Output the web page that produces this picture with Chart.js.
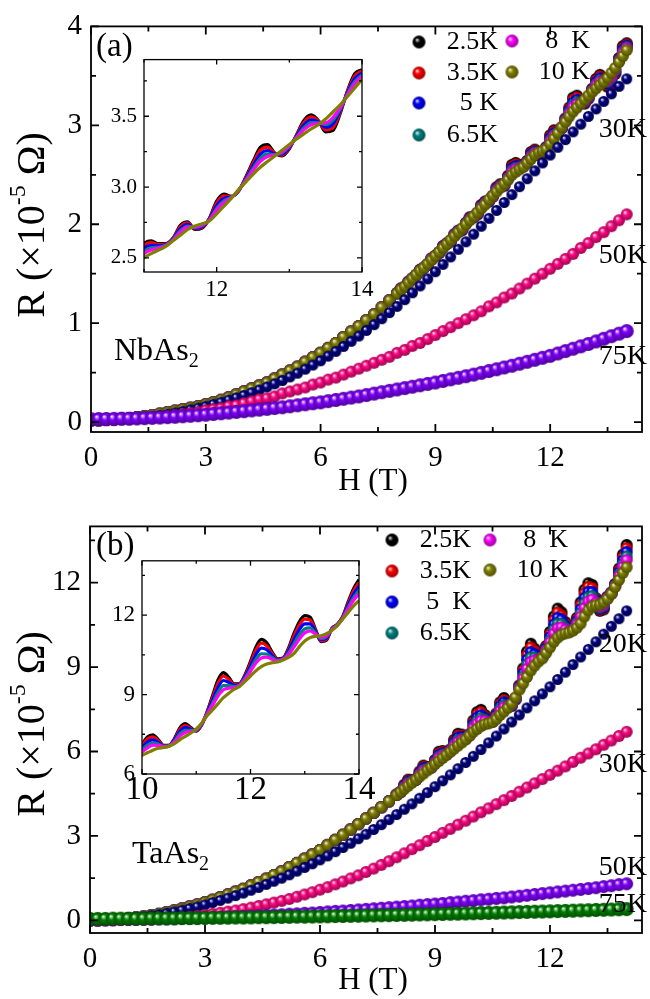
<!DOCTYPE html>
<html>
<head>
<meta charset="utf-8">
<title>NbAs2 / TaAs2 magnetoresistance</title>
<script src="https://cdn.jsdelivr.net/npm/chart.js@4.4.1/dist/chart.umd.min.js"></script>
<style>
  html, body { margin: 0; padding: 0; background: #fff; }
  #page { position: relative; width: 650px; height: 999px; overflow: hidden; }
  #page canvas { position: absolute; }
</style>
</head>
<body>
<div id="page">
  <canvas id="mainA" width="650" height="500" style="left:0;top:0"></canvas>
  <canvas id="mainB" width="650" height="499" style="left:0;top:500px"></canvas>
  <canvas id="insetA" width="290" height="260" style="left:100px;top:40px"></canvas>
  <canvas id="insetB" width="290" height="285" style="left:100px;top:540px"></canvas>
</div>
<script>
// field grids (T)
const hLow = [0,0.2,0.4,0.6,0.8,1,1.2,1.4,1.6,1.8,2,2.2,2.4,2.6,2.8,3,3.2,3.4,3.6,3.8,
  4,4.2,4.4,4.6,4.8,5,5.2,5.4,5.6,5.8,6,6.2,6.4,6.6,6.8,7,7.2,7.4,7.6,7.8];
const hHigh = [8,8.1,8.2,8.3,8.4,8.5,8.6,8.7,8.8,8.9,9,9.1,9.2,9.3,9.4,9.5,9.6,9.7,9.8,9.9,
  10,10.1,10.2,10.3,10.4,10.5,10.6,10.7,10.8,10.9,11,11.1,11.2,11.3,11.4,11.5,11.6,11.7,11.8,11.9,
  12,12.1,12.2,12.3,12.4,12.5,12.6,12.7,12.8,12.9,13,13.1,13.2,13.3,13.4,13.5,13.6,13.7,13.8,13.9,14];
const hAll = [0,0.2,0.4,0.6,0.8,1,1.2,1.4,1.6,1.8,2,2.2,2.4,2.6,2.8,3,3.2,3.4,3.6,3.8,
  4,4.2,4.4,4.6,4.8,5,5.2,5.4,5.6,5.8,6,6.2,6.4,6.6,6.8,7,7.2,7.4,7.6,7.8,
  8,8.2,8.4,8.6,8.8,9,9.2,9.4,9.6,9.8,10,10.2,10.4,10.6,10.8,11,11.2,11.4,11.6,11.8,
  12,12.2,12.4,12.6,12.8,13,13.2,13.4,13.6,13.8,14];

// ---- (a) NbAs2, R in 1e-5 Ohm ----
// low-temperature curves coincide below 8 T
const lowA = [0.02,0.02,0.025,0.03,0.035,0.04,0.05,0.06,0.07,0.085,
  0.10,0.115,0.13,0.145,0.16,0.18,0.20,0.225,0.25,0.28,
  0.31,0.34,0.37,0.40,0.44,0.48,0.52,0.56,0.61,0.655,
  0.70,0.75,0.80,0.86,0.915,0.97,1.03,1.09,1.16,1.23];
const a25 = [1.305,1.35,1.365,1.42,1.45,1.485,1.54,1.56,1.59,1.655,
  1.68,1.71,1.78,1.805,1.825,1.90,1.935,1.94,2.015,2.07,
  2.07,2.10,2.195,2.23,2.23,2.28,2.375,2.405,2.39,2.49,
  2.60,2.62,2.60,2.60,2.64,2.73,2.755,2.70,2.71,2.78,
  2.90,2.95,2.935,2.97,3.07,3.18,3.28,3.30,3.24,3.22,
  3.27,3.37,3.47,3.51,3.47,3.39,3.40,3.52,3.68,3.80,3.83];
const a35 = [1.304,1.349,1.366,1.419,1.45,1.486,1.539,1.56,1.592,1.653,
  1.68,1.712,1.777,1.804,1.827,1.897,1.933,1.943,2.013,2.066,
  2.072,2.103,2.19,2.226,2.233,2.282,2.368,2.40,2.393,2.484,
  2.585,2.607,2.593,2.597,2.637,2.72,2.747,2.704,2.715,2.777,
  2.887,2.937,2.933,2.972,3.065,3.167,3.259,3.282,3.237,3.226,
  3.275,3.366,3.456,3.495,3.466,3.404,3.42,3.529,3.674,3.785,3.82];
const a5 = [1.303,1.347,1.367,1.417,1.45,1.487,1.537,1.56,1.594,1.65,
  1.68,1.714,1.773,1.803,1.83,1.893,1.93,1.947,2.01,2.06,
  2.074,2.107,2.183,2.22,2.237,2.284,2.359,2.393,2.397,2.476,
  2.565,2.589,2.584,2.593,2.633,2.706,2.736,2.709,2.721,2.773,
  2.869,2.92,2.93,2.974,3.058,3.149,3.231,3.258,3.233,3.234,
  3.281,3.36,3.437,3.475,3.46,3.422,3.446,3.541,3.666,3.765,3.806];
const a65 = [1.302,1.345,1.368,1.415,1.45,1.488,1.535,1.56,1.596,1.647,
  1.68,1.716,1.769,1.802,1.833,1.889,1.927,1.951,2.007,2.054,
  2.076,2.111,2.176,2.214,2.241,2.286,2.35,2.386,2.401,2.468,
  2.545,2.571,2.575,2.589,2.629,2.692,2.725,2.714,2.727,2.769,
  2.851,2.903,2.927,2.976,3.051,3.131,3.203,3.234,3.229,3.242,
  3.287,3.354,3.418,3.455,3.454,3.44,3.472,3.553,3.658,3.745,3.792];
const a8 = [1.302,1.343,1.369,1.413,1.45,1.489,1.533,1.56,1.597,1.645,
  1.68,1.717,1.766,1.802,1.836,1.886,1.925,1.954,2.005,2.049,
  2.077,2.114,2.171,2.209,2.244,2.287,2.344,2.381,2.404,2.462,
  2.53,2.557,2.569,2.586,2.626,2.681,2.717,2.718,2.731,2.766,
  2.837,2.891,2.925,2.977,3.046,3.117,3.182,3.216,3.226,3.248,
  3.291,3.349,3.404,3.44,3.449,3.453,3.491,3.562,3.652,3.73,3.781];
const a10 = [1.30,1.34,1.37,1.41,1.45,1.49,1.53,1.56,1.60,1.64,
  1.68,1.72,1.76,1.80,1.84,1.88,1.92,1.96,2.00,2.04,
  2.08,2.12,2.16,2.20,2.25,2.29,2.33,2.37,2.41,2.45,
  2.50,2.53,2.555,2.58,2.62,2.66,2.70,2.725,2.74,2.76,
  2.81,2.865,2.92,2.98,3.035,3.09,3.14,3.18,3.22,3.26,
  3.30,3.34,3.375,3.41,3.44,3.48,3.53,3.58,3.64,3.70,3.76];
const a30 = [0.01,0.012,0.015,0.019,0.024,0.03,0.037,0.045,0.055,0.067,
  0.08,0.094,0.109,0.125,0.142,0.16,0.18,0.201,0.223,0.246,
  0.27,0.297,0.325,0.355,0.387,0.42,0.457,0.495,0.535,0.577,
  0.62,0.667,0.715,0.765,0.817,0.87,0.927,0.985,1.045,1.107,
  1.17,1.238,1.307,1.377,1.448,1.52,1.595,1.67,1.747,1.823,
  1.90,1.98,2.06,2.14,2.22,2.30,2.38,2.46,2.54,2.62,
  2.70,2.778,2.856,2.934,3.012,3.09,3.166,3.242,3.318,3.394,3.47];
const a50 = [0.02,0.02,0.02,0.02,0.03,0.03,0.04,0.04,0.05,0.05,
  0.06,0.07,0.08,0.09,0.10,0.12,0.13,0.14,0.16,0.17,
  0.19,0.21,0.23,0.24,0.26,0.29,0.31,0.33,0.35,0.38,
  0.40,0.43,0.45,0.48,0.51,0.54,0.57,0.60,0.63,0.66,
  0.70,0.73,0.77,0.80,0.84,0.88,0.92,0.96,1.00,1.04,
  1.08,1.12,1.17,1.21,1.26,1.30,1.35,1.40,1.45,1.50,
  1.55,1.60,1.65,1.70,1.76,1.81,1.87,1.92,1.98,2.04,2.10];
const a75 = [0.03,0.031,0.032,0.033,0.034,0.035,0.037,0.04,0.043,0.046,
  0.05,0.054,0.059,0.064,0.069,0.075,0.082,0.089,0.096,0.103,
  0.11,0.118,0.126,0.134,0.142,0.15,0.16,0.17,0.18,0.19,
  0.20,0.212,0.224,0.236,0.248,0.26,0.274,0.288,0.302,0.316,
  0.33,0.344,0.358,0.372,0.386,0.40,0.416,0.432,0.448,0.464,
  0.48,0.498,0.516,0.534,0.552,0.57,0.59,0.61,0.63,0.65,
  0.67,0.694,0.718,0.742,0.766,0.79,0.816,0.842,0.868,0.894,0.92];

// ---- (b) TaAs2 ----
const lowB = [0.00,0.003,0.011,0.025,0.045,0.07,0.10,0.135,0.18,0.23,
  0.29,0.35,0.42,0.49,0.56,0.64,0.73,0.82,0.92,1.02,
  1.12,1.24,1.36,1.48,1.61,1.74,1.89,2.04,2.19,2.34,
  2.50,2.68,2.86,3.04,3.23,3.42,3.62,3.82,4.02,4.23];
const b25 = [4.47,4.56,4.82,5.00,4.99,5.00,5.29,5.50,5.45,5.44,
  5.70,5.99,6.02,5.93,6.07,6.42,6.63,6.60,6.48,6.61,
  7.10,7.40,7.48,7.30,7.08,7.08,7.35,7.75,7.90,7.75,
  7.62,7.85,8.35,8.95,9.55,9.83,9.65,9.40,9.42,9.75,
  10.25,10.80,11.08,10.95,10.60,10.35,10.38,10.75,11.30,11.75,
  11.98,11.92,11.45,11.00,11.05,11.50,11.65,11.95,12.50,13.00,13.34];
const b35 = [4.47,4.56,4.80,4.97,4.98,5.00,5.26,5.46,5.43,5.44,
  5.68,5.94,5.99,5.92,6.06,6.38,6.57,6.56,6.47,6.60,
  7.04,7.32,7.40,7.25,7.07,7.08,7.32,7.69,7.83,7.72,
  7.63,7.86,8.33,8.88,9.42,9.70,9.57,9.37,9.40,9.72,
  10.17,10.67,10.94,10.84,10.54,10.33,10.37,10.70,11.20,11.62,
  11.85,11.81,11.42,11.03,11.09,11.49,11.64,11.94,12.44,12.91,13.23];
const b5 = [4.46,4.56,4.77,4.93,4.96,5.00,5.23,5.41,5.41,5.44,
  5.65,5.88,5.94,5.91,6.04,6.32,6.50,6.51,6.46,6.59,
  6.97,7.21,7.29,7.19,7.05,7.07,7.29,7.61,7.75,7.69,
  7.65,7.87,8.30,8.78,9.26,9.53,9.46,9.34,9.38,9.67,
  10.07,10.51,10.75,10.69,10.47,10.31,10.35,10.64,11.06,11.45,
  11.67,11.67,11.37,11.07,11.13,11.47,11.63,11.92,12.37,12.79,13.09];
const b65 = [4.46,4.56,4.74,4.89,4.94,5.00,5.20,5.35,5.39,5.44,
  5.62,5.82,5.89,5.90,6.03,6.25,6.41,6.45,6.45,6.58,
  6.89,7.09,7.18,7.13,7.04,7.06,7.25,7.52,7.65,7.65,
  7.66,7.89,8.27,8.67,9.08,9.34,9.34,9.30,9.36,9.62,
  9.96,10.33,10.54,10.53,10.39,10.29,10.34,10.57,10.91,11.26,
  11.48,11.52,11.32,11.11,11.18,11.46,11.62,11.90,12.29,12.66,12.93];
const b8 = [4.46,4.56,4.72,4.85,4.92,5.00,5.17,5.31,5.37,5.44,
  5.60,5.77,5.85,5.90,6.02,6.20,6.34,6.41,6.45,6.58,
  6.83,6.99,7.09,7.08,7.03,7.06,7.21,7.44,7.57,7.61,
  7.67,7.90,8.25,8.59,8.94,9.18,9.24,9.26,9.35,9.58,
  9.88,10.19,10.38,10.41,10.33,10.27,10.33,10.51,10.79,11.10,
  11.33,11.40,11.28,11.15,11.22,11.45,11.62,11.88,12.23,12.56,12.80];
const b10 = [4.45,4.56,4.67,4.78,4.89,5.00,5.11,5.22,5.33,5.44,
  5.55,5.66,5.77,5.88,5.99,6.10,6.21,6.32,6.43,6.56,
  6.70,6.80,6.90,6.97,7.00,7.05,7.15,7.30,7.42,7.55,
  7.70,7.92,8.20,8.42,8.65,8.88,9.05,9.20,9.31,9.50,
  9.70,9.90,10.05,10.15,10.20,10.23,10.30,10.40,10.55,10.80,
  11.02,11.15,11.20,11.22,11.30,11.42,11.60,11.85,12.10,12.35,12.55];
const b20 = [0.00,0.00,0.01,0.02,0.04,0.06,0.09,0.12,0.16,0.20,
  0.25,0.30,0.36,0.42,0.48,0.55,0.63,0.71,0.79,0.88,
  0.97,1.07,1.17,1.28,1.39,1.50,1.62,1.75,1.88,2.01,
  2.15,2.29,2.44,2.59,2.74,2.90,3.06,3.23,3.40,3.58,
  3.76,3.95,4.14,4.34,4.54,4.75,4.96,5.17,5.39,5.61,
  5.83,6.07,6.31,6.55,6.80,7.05,7.30,7.55,7.80,8.05,
  8.30,8.56,8.82,9.09,9.36,9.63,9.90,10.17,10.45,10.72,11.00];
const b30 = [0.00,0.00,0.00,0.00,0.01,0.01,0.02,0.03,0.04,0.05,
  0.07,0.09,0.11,0.13,0.16,0.19,0.23,0.27,0.31,0.35,
  0.40,0.45,0.51,0.57,0.63,0.69,0.76,0.84,0.92,1.00,
  1.09,1.18,1.28,1.38,1.49,1.60,1.72,1.84,1.97,2.10,
  2.24,2.38,2.53,2.67,2.82,2.96,3.11,3.25,3.40,3.54,
  3.69,3.84,3.98,4.13,4.27,4.42,4.57,4.72,4.87,5.02,
  5.17,5.32,5.47,5.63,5.78,5.93,6.08,6.24,6.39,6.55,6.70];
const b50 = [0.02,0.02,0.02,0.02,0.03,0.03,0.03,0.04,0.04,0.05,
  0.05,0.06,0.07,0.07,0.08,0.09,0.10,0.11,0.12,0.13,
  0.14,0.15,0.16,0.18,0.19,0.20,0.22,0.23,0.25,0.26,
  0.28,0.30,0.32,0.33,0.35,0.37,0.39,0.41,0.43,0.45,
  0.47,0.49,0.51,0.54,0.56,0.58,0.60,0.63,0.65,0.68,
  0.70,0.73,0.75,0.78,0.80,0.83,0.86,0.89,0.92,0.95,
  0.98,1.01,1.04,1.07,1.10,1.13,1.16,1.20,1.23,1.27,1.30];
const b75 = [0.05,0.05,0.05,0.06,0.06,0.06,0.06,0.06,0.07,0.07,
  0.07,0.07,0.08,0.08,0.08,0.085,0.09,0.09,0.095,0.10,
  0.10,0.105,0.11,0.11,0.115,0.12,0.125,0.13,0.13,0.135,
  0.14,0.145,0.15,0.155,0.16,0.165,0.17,0.175,0.18,0.185,
  0.19,0.196,0.202,0.208,0.214,0.22,0.226,0.232,0.238,0.244,
  0.25,0.257,0.264,0.271,0.278,0.285,0.292,0.299,0.306,0.313,
  0.32,0.328,0.336,0.344,0.352,0.36,0.368,0.376,0.384,0.392,0.40];

// ticks
const xTicksMain = [0, 3, 6, 9, 12];
const xMinorMain = [1.5, 4.5, 7.5, 10.5, 13.5];
const yTicksA = [0, 1, 2, 3, 4];
const yMinorA = [0.5, 1.5, 2.5, 3.5];
const yTicksB = [0, 3, 6, 9, 12];
const yMinorB = [1.5, 4.5, 7.5, 10.5, 13.5];
const xTicksInA = [12, 14];
const xMinorInA = [11, 13];
const yTicksInA = [2.5, 3.0, 3.5];
const yMinorInA = [2.75, 3.25, 3.75];
const xTicksInB = [10, 12, 14];
const xMinorInB = [11, 13];
const yTicksInB = [6, 9, 12];
const yMinorInB = [7.5, 10.5, 13.5];

const SERIF = "'Liberation Serif', 'Times New Roman', serif";
Chart.defaults.font.family = SERIF;
Chart.defaults.color = '#000';

const C = {
  black: '#000000', red: '#ff0000', blue: '#0000ff', teal: '#008080',
  magenta: '#ff00ff', olive: '#808000', navy: '#000080', pink: '#ff0a84',
  violet: '#8000ff', green: '#008000'
};

function shade(hex, f) {
  const n = parseInt(hex.slice(1), 16);
  const r = Math.round(((n >> 16) & 255) * f), g = Math.round(((n >> 8) & 255) * f), b = Math.round((n & 255) * f);
  return 'rgb(' + r + ',' + g + ',' + b + ')';
}

// shaded sphere used as point style
function ball(color, r) {
  const s = Math.ceil(r * 2) + 2;
  const c = document.createElement('canvas');
  c.width = c.height = s;
  const g = c.getContext('2d'), m = s / 2;
  const grd = g.createRadialGradient(m - r * 0.35, m - r * 0.38, 0, m, m, r);
  grd.addColorStop(0, '#ffffff');
  grd.addColorStop(0.4, color);
  grd.addColorStop(1, shade(color, 0.6));
  g.fillStyle = grd;
  g.beginPath();
  g.arc(m, m, r, 0, Math.PI * 2);
  g.fill();
  return c;
}

const pts = (xs, ys) => xs.map((x, i) => ({ x: x, y: ys[i] }));
const hLowHigh = hLow.concat(hHigh);

function ballSet(label, xs, ys, color, r, order) {
  return { label, data: pts(xs, ys), pointStyle: ball(color, r), pointRadius: r, showLine: false, order };
}
function lineSet(label, ys, color, order) {
  return { label, data: pts(hHigh, ys), borderColor: color, borderWidth: 3.2, pointRadius: 0,
           showLine: true, cubicInterpolationMode: 'monotone', clip: 0, order };
}

function framePlugin(id, t) {
  return {
    id,
    beforeDatasetsDraw(chart) {
      if (!t.fill) return;
      const a = chart.chartArea, ctx = chart.ctx;
      ctx.save();
      ctx.fillStyle = '#fff';
      ctx.fillRect(a.left, a.top, a.right - a.left, a.bottom - a.top);
      ctx.restore();
    },
    afterDatasetsDraw(chart) {
      const { ctx, chartArea: a, scales: { x, y } } = chart;
      ctx.save();
      ctx.strokeStyle = '#000';
      ctx.lineWidth = t.lw;
      ctx.beginPath();
      const xt = (vals, len) => vals.forEach(v => {
        const p = x.getPixelForValue(v);
        ctx.moveTo(p, a.bottom); ctx.lineTo(p, a.bottom - len);
        ctx.moveTo(p, a.top); ctx.lineTo(p, a.top + len);
      });
      const yt = (vals, len) => vals.forEach(v => {
        const p = y.getPixelForValue(v);
        ctx.moveTo(a.left, p); ctx.lineTo(a.left + len, p);
        ctx.moveTo(a.right, p); ctx.lineTo(a.right - len, p);
      });
      xt(t.xMajor, t.major); xt(t.xMinor, t.minor);
      yt(t.yMajor, t.major); yt(t.yMinor, t.minor);
      ctx.stroke();
      ctx.strokeRect(a.left, a.top, a.right - a.left, a.bottom - a.top);
      ctx.restore();
    }
  };
}

function txt(ctx, s, x, y, size, align) {
  ctx.font = size + 'px ' + SERIF;
  ctx.textAlign = align || 'left';
  ctx.textBaseline = 'middle';
  ctx.fillStyle = '#000';
  ctx.fillText(s, x, y);
}
function formula(ctx, base, sub, x, y, size) {
  txt(ctx, base, x, y, size);
  const w = ctx.measureText(base).width;
  txt(ctx, sub, x + w, y + size * 0.32, Math.round(size * 0.62));
}
function yTitle(ctx, cx, cy, size) {
  ctx.save();
  ctx.translate(cx, cy);
  ctx.rotate(-Math.PI / 2);
  const big = size + 'px ' + SERIF, small = Math.round(size * 0.6) + 'px ' + SERIF;
  const p1 = 'R (\u00d710', p2 = '-5', p3 = ' \u03a9)';
  ctx.font = big; const w1 = ctx.measureText(p1).width, w3 = ctx.measureText(p3).width;
  ctx.font = small; const w2 = ctx.measureText(p2).width;
  let x = -(w1 + w2 + w3) / 2;
  ctx.fillStyle = '#000';
  ctx.textBaseline = 'middle';
  ctx.textAlign = 'left';
  ctx.font = big; ctx.fillText(p1, x, 0); x += w1;
  ctx.font = small; ctx.fillText(p2, x, -size * 0.36); x += w2;
  ctx.font = big; ctx.fillText(p3, x, 0);
  ctx.restore();
}
function legend(ctx, items) {
  items.forEach(it => {
    const img = ball(it.color, 6.5);
    ctx.drawImage(img, it.bx - img.width / 2, it.by - img.height / 2);
    txt(ctx, it.label, it.tx, it.by, 26, 'right');
  });
}

function axis(min, max, ticks, fit, font, pad, cb) {
  const o = {
    type: 'linear', min, max, bounds: 'data',
    afterBuildTicks: s => { s.ticks = ticks.map(v => ({ value: v })); },
    afterFit: fit,
    grid: { display: false, drawTicks: false },
    border: { display: false },
    ticks: { font: { size: font, family: SERIF }, color: '#000', padding: pad, autoSkip: false, maxRotation: 0 }
  };
  if (cb) o.ticks.callback = cb;
  return o;
}

const common = {
  responsive: false, animation: false, events: [],
  plugins: { legend: { display: false }, tooltip: { enabled: false } }
};

// ---- panel (a) main ----
new Chart(document.getElementById('mainA'), {
  type: 'scatter',
  data: { datasets: [
    ballSet('2.5K', hLowHigh, lowA.concat(a25), C.black, 6, 9),
    ballSet('3.5K', hLowHigh, lowA.concat(a35), C.red, 6, 8),
    ballSet('5K', hLowHigh, lowA.concat(a5), C.blue, 6, 7),
    ballSet('6.5K', hLowHigh, lowA.concat(a65), C.teal, 6, 6),
    ballSet('8K', hLowHigh, lowA.concat(a8), C.magenta, 6, 5),
    ballSet('10K', hLowHigh, lowA.concat(a10), C.olive, 6, 4),
    ballSet('30K', hAll, a30, C.navy, 5.5, 3),
    ballSet('50K', hAll, a50, C.pink, 6, 2),
    ballSet('75K', hAll, a75, C.violet, 7, 1)
  ] },
  options: Object.assign({}, common, {
    layout: { padding: { left: 0, right: 1, top: 20, bottom: 0 } },
    scales: {
      x: axis(0, 14.4, xTicksMain, s => { s.height = 68; }, 29, 9),
      y: axis(-0.1, 4, yTicksA, s => { s.width = 91; }, 29, 9)
    }
  }),
  plugins: [
    framePlugin('frameA', { xMajor: xTicksMain, xMinor: xMinorMain, yMajor: yTicksA, yMinor: yMinorA, major: 8, minor: 5, lw: 1.8 }),
    { id: 'textA', afterDraw(chart) {
      const ctx = chart.ctx;
      yTitle(ctx, 33, 225, 40);
      txt(ctx, 'H (T)', 373, 482, 31, 'center');
      txt(ctx, '(a)', 96, 47, 33);
      formula(ctx, 'NbAs', '2', 114, 352, 32);
      legend(ctx, [
        { label: '2.5K', color: C.black, bx: 419, by: 42, tx: 498 },
        { label: '3.5K', color: C.red, bx: 419, by: 73, tx: 498 },
        { label: ' 5 K', color: C.blue, bx: 419, by: 103, tx: 498 },
        { label: '6.5K', color: C.teal, bx: 419, by: 135, tx: 498 },
        { label: '8  K', color: C.magenta, bx: 512, by: 41, tx: 590 },
        { label: '10 K', color: C.olive, bx: 512, by: 72, tx: 590 }
      ]);
      txt(ctx, '30K', 647, 130, 28, 'right');
      txt(ctx, '50K', 647, 256, 28, 'right');
      txt(ctx, '75K', 647, 357, 28, 'right');
    } }
  ]
});

// ---- panel (a) inset ----
new Chart(document.getElementById('insetA'), {
  type: 'scatter',
  data: { datasets: [
    lineSet('2.5K', a25, C.black, 6),
    lineSet('3.5K', a35, C.red, 5),
    lineSet('5K', a5, C.blue, 4),
    lineSet('6.5K', a65, C.teal, 3),
    lineSet('8K', a8, C.magenta, 2),
    lineSet('10K', a10, C.olive, 1)
  ] },
  options: Object.assign({}, common, {
    layout: { padding: { left: 0, right: 28, top: 15, bottom: 0 } },
    scales: {
      x: axis(11, 14, xTicksInA, s => { s.height = 28; }, 23, 4),
      y: axis(2.4, 3.9, yTicksInA, s => { s.width = 44; }, 21, 7, v => v.toFixed(1))
    }
  }),
  plugins: [framePlugin('frameIA', { xMajor: xTicksInA, xMinor: xMinorInA, yMajor: yTicksInA, yMinor: yMinorInA, major: 5, minor: 3, lw: 1.3, fill: true })]
});

// ---- panel (b) main ----
new Chart(document.getElementById('mainB'), {
  type: 'scatter',
  data: { datasets: [
    ballSet('2.5K', hLowHigh, lowB.concat(b25), C.black, 6, 10),
    ballSet('3.5K', hLowHigh, lowB.concat(b35), C.red, 6, 9),
    ballSet('5K', hLowHigh, lowB.concat(b5), C.blue, 6, 8),
    ballSet('6.5K', hLowHigh, lowB.concat(b65), C.teal, 6, 7),
    ballSet('8K', hLowHigh, lowB.concat(b8), C.magenta, 6, 6),
    ballSet('10K', hLowHigh, lowB.concat(b10), C.olive, 6, 5),
    ballSet('20K', hAll, b20, C.navy, 5.5, 4),
    ballSet('30K', hAll, b30, C.pink, 6, 3),
    ballSet('50K', hAll, b50, C.violet, 6.5, 2),
    ballSet('75K', hAll, b75, C.green, 7, 1)
  ] },
  options: Object.assign({}, common, {
    layout: { padding: { left: 0, right: 1, top: 17, bottom: 0 } },
    scales: {
      x: axis(0, 14.4, xTicksMain, s => { s.height = 66; }, 29, 9),
      y: axis(-0.45, 14, yTicksB, s => { s.width = 90; }, 29, 9)
    }
  }),
  plugins: [
    framePlugin('frameB', { xMajor: xTicksMain, xMinor: xMinorMain, yMajor: yTicksB, yMinor: yMinorB, major: 8, minor: 5, lw: 1.8 }),
    { id: 'textB', afterDraw(chart) {
      const ctx = chart.ctx;
      yTitle(ctx, 33, 224, 40);
      txt(ctx, 'H (T)', 373, 481, 31, 'center');
      txt(ctx, '(b)', 96, 46, 33);
      formula(ctx, 'TaAs', '2', 132, 355, 32);
      legend(ctx, [
        { label: '2.5K', color: C.black, bx: 392, by: 40, tx: 471 },
        { label: '3.5K', color: C.red, bx: 392, by: 71, tx: 471 },
        { label: ' 5  K', color: C.blue, bx: 392, by: 102, tx: 471 },
        { label: '6.5K', color: C.teal, bx: 392, by: 133, tx: 471 },
        { label: '8  K', color: C.magenta, bx: 490, by: 40, tx: 568 },
        { label: '10 K', color: C.olive, bx: 490, by: 70, tx: 568 }
      ]);
      txt(ctx, '20K', 647, 145, 28, 'right');
      txt(ctx, '30K', 647, 265, 28, 'right');
      txt(ctx, '50K', 647, 368, 28, 'right');
      txt(ctx, '75K', 647, 405, 28, 'right');
    } }
  ]
});

// ---- panel (b) inset ----
new Chart(document.getElementById('insetB'), {
  type: 'scatter',
  data: { datasets: [
    lineSet('2.5K', b25, C.black, 6),
    lineSet('3.5K', b35, C.red, 5),
    lineSet('5K', b5, C.blue, 4),
    lineSet('6.5K', b65, C.teal, 3),
    lineSet('8K', b8, C.magenta, 2),
    lineSet('10K', b10, C.olive, 1)
  ] },
  options: Object.assign({}, common, {
    layout: { padding: { left: 0, right: 31, top: 14, bottom: 0 } },
    scales: {
      x: axis(10, 14, xTicksInB, s => { s.height = 51; }, 33, -3),
      y: axis(6, 14.05, yTicksInB, s => { s.width = 42; }, 23, 7)
    }
  }),
  plugins: [framePlugin('frameIB', { xMajor: xTicksInB, xMinor: xMinorInB, yMajor: yTicksInB, yMinor: yMinorInB, major: 5, minor: 3, lw: 1.3, fill: true })]
});
</script>
</body>
</html>
